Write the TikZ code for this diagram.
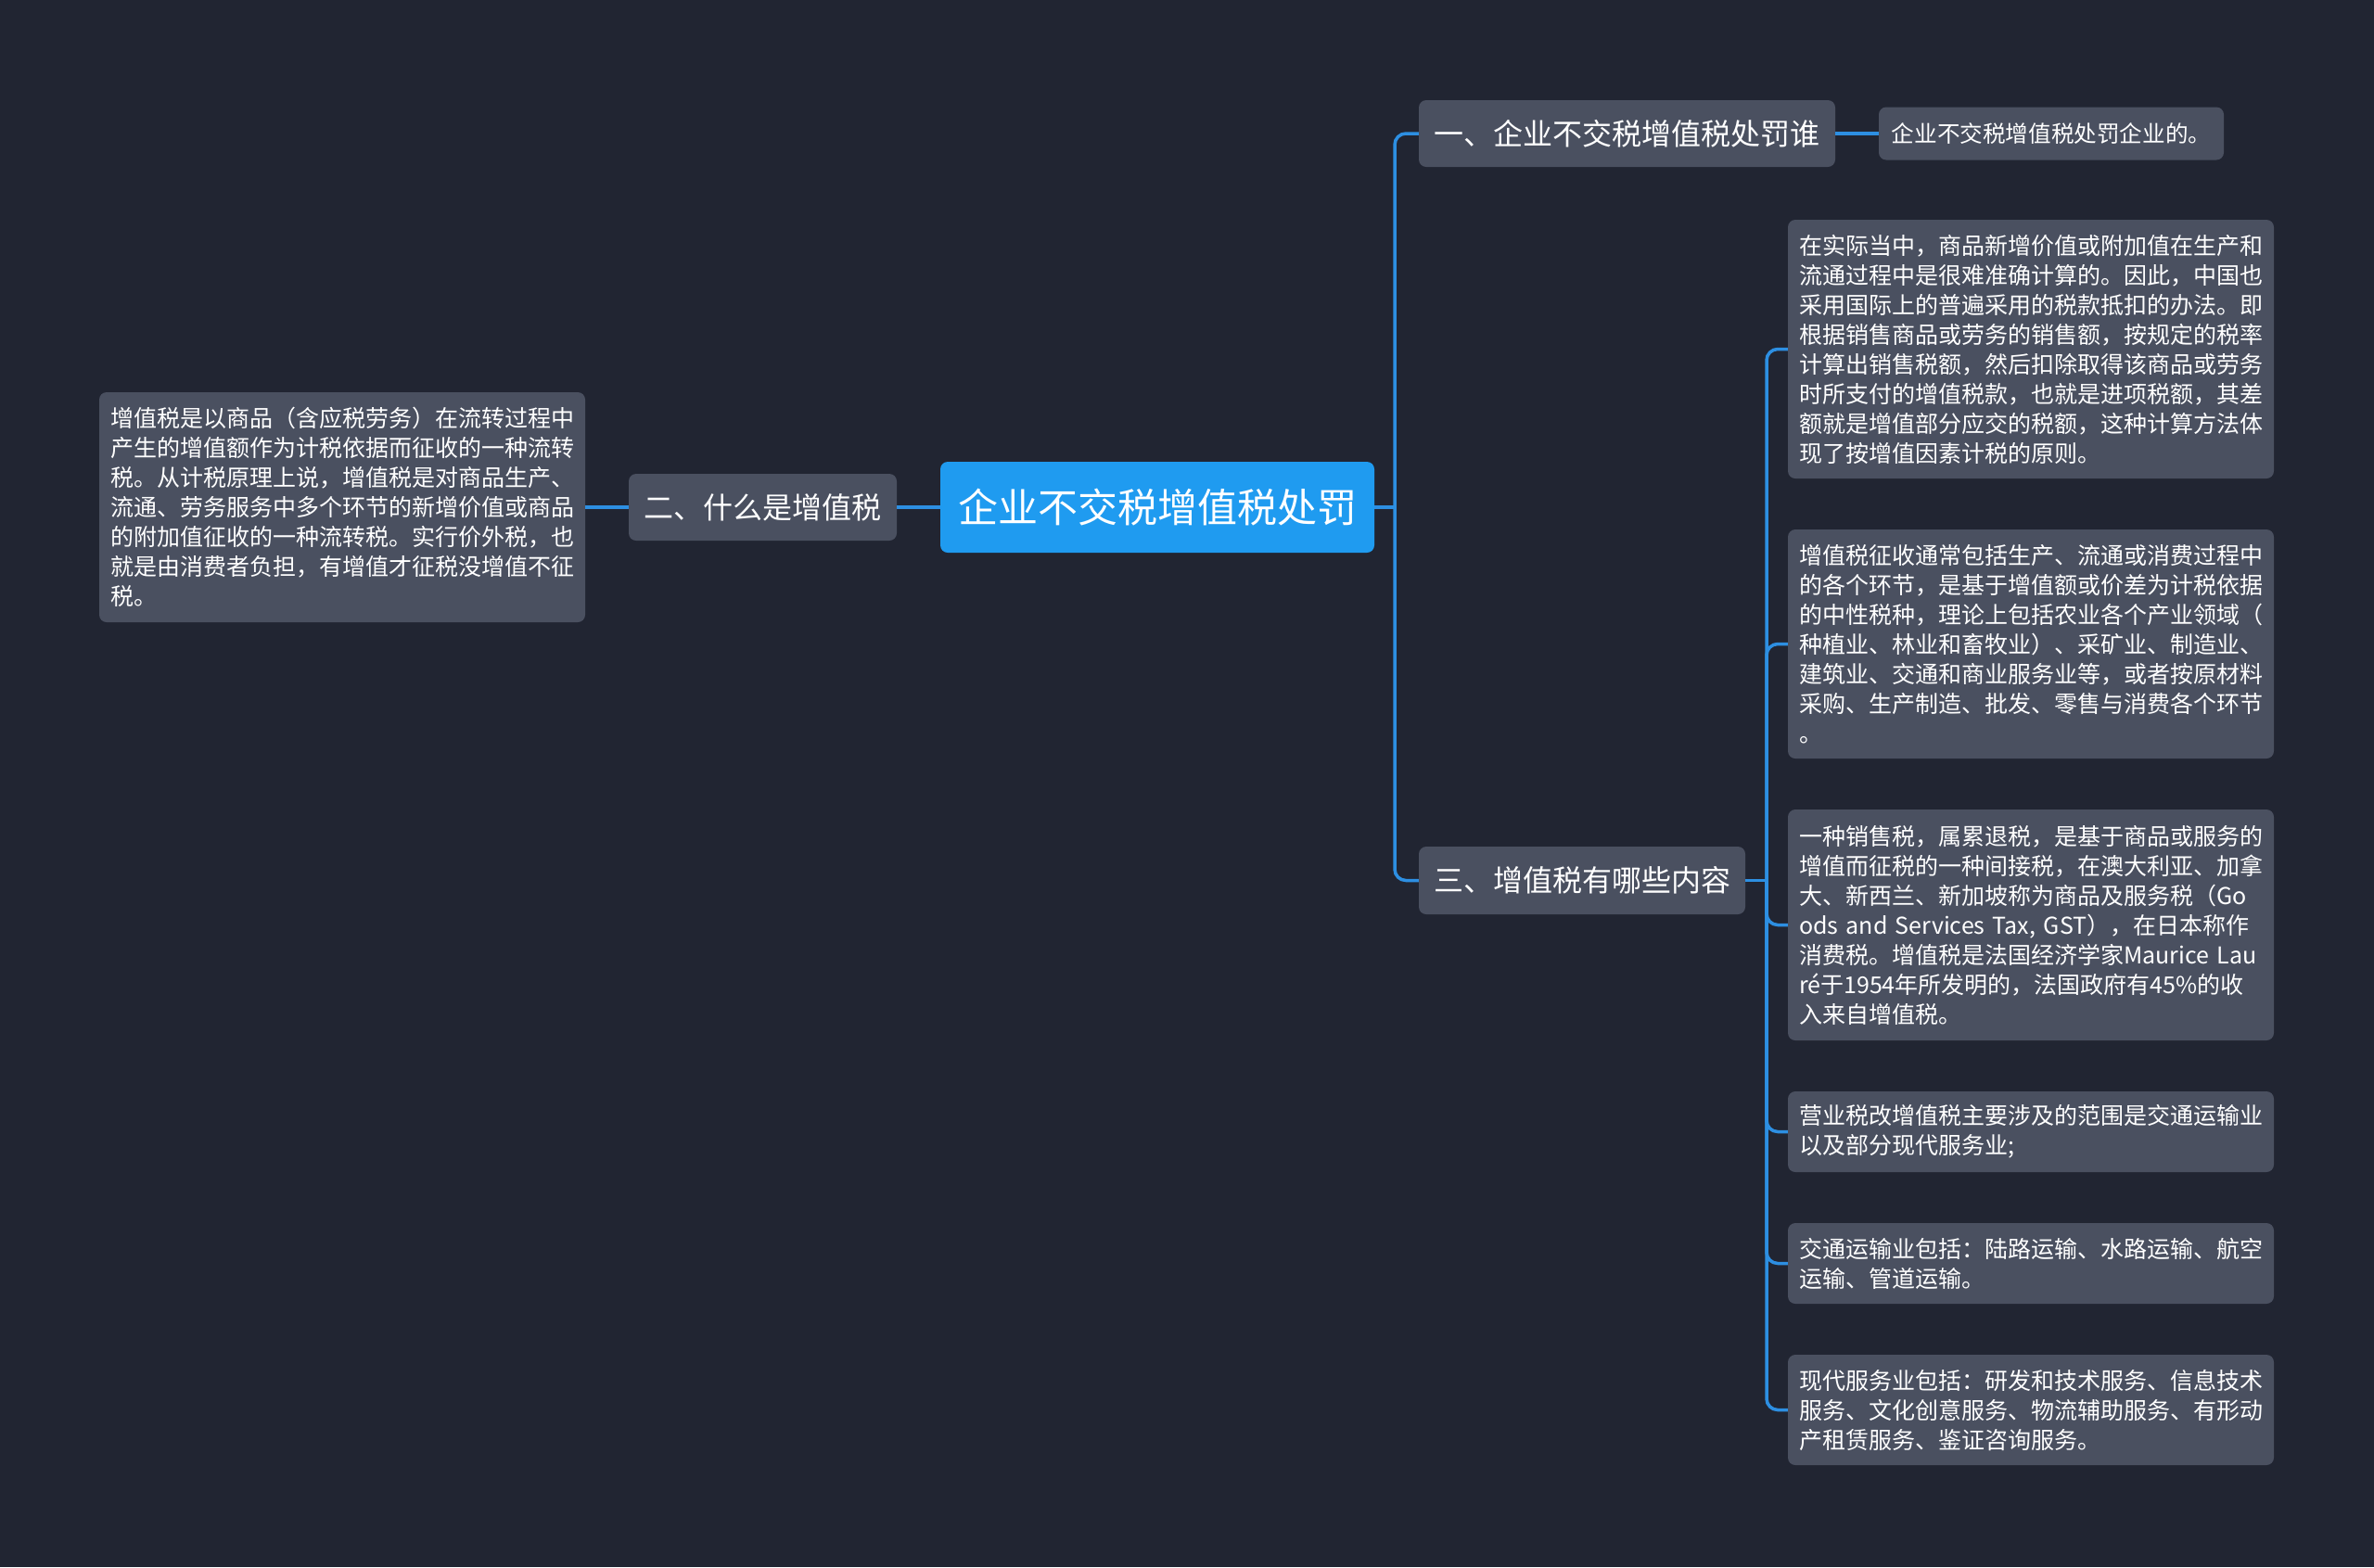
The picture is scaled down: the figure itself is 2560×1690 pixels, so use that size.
\documentclass[tikz,border=0pt]{standalone}
\usepackage{fontspec}
\setmainfont{Noto Sans CJK SC}
\definecolor{bgcol}{RGB}{33,37,50}
\definecolor{nodefill}{RGB}{74,80,96}
\definecolor{rootfill}{RGB}{31,155,240}
\definecolor{linecol}{RGB}{45,143,226}
\tikzset{
  basebox/.style={rounded corners=8pt, fill=nodefill, text=white, inner ysep=0pt, anchor=center},
  rootbox/.style={basebox, fill=rootfill, inner xsep=0pt, font=\fontsize{43}{50}\selectfont},
  topicbox/.style={basebox, inner xsep=0pt, font=\fontsize{32}{38}\selectfont},
  smallbox/.style={basebox, inner xsep=0pt, font=\fontsize{24.6}{32}\selectfont},
  leafbox/.style={basebox, inner xsep=12pt, text width=500pt, align=left, minimum width=524pt, font=\fontsize{25}{32}\selectfont},
  conn/.style={draw=linecol, line width=3.5pt, rounded corners=12pt},
}
\begin{document}
\begin{tikzpicture}[x=1pt,y=-1pt]
\useasboundingbox[fill=bgcol] (0,0) rectangle (2560,1690);

% root and topics
\node[rootbox, minimum width=468pt, minimum height=98pt] (root) at (1248,547) {企业不交税增值税处罚};
\node[topicbox, minimum width=449pt, minimum height=72pt] (t1) at (1754.5,144) {一、企业不交税增值税处罚谁};
\node[topicbox, minimum width=289pt, minimum height=72pt] (t2) at (822.5,547) {二、什么是增值税};
\node[topicbox, minimum width=352pt, minimum height=73pt] (t3) at (1706,949.5) {三、增值税有哪些内容};

% leaves
\node[smallbox, minimum width=372pt, minimum height=57pt] (la) at (2212,144) {企业不交税增值税处罚企业的。};

\node[leafbox, minimum width=522pt, minimum height=248pt] (lb) at (369,547) {增值税是以商品（含应税劳务）在流转过程中\\产生的增值额作为计税依据而征收的一种流转\\税。从计税原理上说，增值税是对商品生产、\\流通、劳务服务中多个环节的新增价值或商品\\的附加值征收的一种流转税。实行价外税，也\\就是由消费者负担，有增值才征税没增值不征\\税。};

\node[leafbox, minimum height=279pt] (r1) at (2190,376.5) {在实际当中，商品新增价值或附加值在生产和\\流通过程中是很难准确计算的。因此，中国也\\采用国际上的普遍采用的税款抵扣的办法。即\\根据销售商品或劳务的销售额，按规定的税率\\计算出销售税额，然后扣除取得该商品或劳务\\时所支付的增值税款，也就是进项税额，其差\\额就是增值部分应交的税额，这种计算方法体\\现了按增值因素计税的原则。};
\node[leafbox, minimum height=247pt] (r2) at (2190,694.5) {增值税征收通常包括生产、流通或消费过程中\\的各个环节，是基于增值额或价差为计税依据\\的中性税种，理论上包括农业各个产业领域（\\种植业、林业和畜牧业）、采矿业、制造业、\\建筑业、交通和商业服务业等，或者按原材料\\采购、生产制造、批发、零售与消费各个环节\\。};
\node[leafbox, minimum height=249pt] (r3) at (2190,997.5) {一种销售税，属累退税，是基于商品或服务的\\增值而征税的一种间接税，在澳大利亚、加拿\\大、新西兰、新加坡称为商品及服务税（Go\\ods and Services Tax, GST），在日本称作\\消费税。增值税是法国经济学家Maurice Lau\\ré于1954年所发明的，法国政府有45\%的收\\入来自增值税。};
\node[leafbox, minimum height=87pt] (r4) at (2190,1220.5) {营业税改增值税主要涉及的范围是交通运输业\\以及部分现代服务业;};
\node[leafbox, minimum height=87pt] (r5) at (2190,1362.5) {交通运输业包括：陆路运输、水路运输、航空\\运输、管道运输。};
\node[leafbox, minimum height=119pt] (r6) at (2190,1520.5) {现代服务业包括：研发和技术服务、信息技术\\服务、文化创意服务、物流辅助服务、有形动\\产租赁服务、鉴证咨询服务。};

% connectors
\coordinate (j1) at (1504,547);
\coordinate (j2) at (1905,949.5);
\draw[conn] (root.east) -- (j1);
\draw[conn] (j1) |- (t1.west);
\draw[conn] (j1) |- (t3.west);
\draw[conn] (root.west) -- (t2.east);
\draw[conn] (t2.west) -- (lb.east);
\draw[conn] (t1.east) -- (la.west);
\draw[conn] (t3.east) -- (j2);
\foreach \r in {r1,r2,r3,r4,r5,r6} {
  \draw[conn] (j2) |- (\r.west);
}
\end{tikzpicture}
\end{document}
